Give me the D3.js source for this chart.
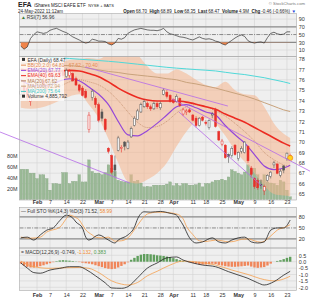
<!DOCTYPE html>
<html>
<head>
<meta charset="utf-8">
<script src="https://cdn.jsdelivr.net/npm/d3@7"></script>
<style>
  body { margin: 0; background: #fff; }
  svg { display: block; font-family: "Liberation Sans", Arial, sans-serif; }
</style>
</head>
<body>
<svg id="chart" width="312" height="300"></svg>
<script>
// trading days shown
const dates = [
  "2022-01-25","2022-01-26","2022-01-27","2022-01-28","2022-01-31",
  "2022-02-01","2022-02-02","2022-02-03","2022-02-04","2022-02-07","2022-02-08","2022-02-09","2022-02-10","2022-02-11",
  "2022-02-14","2022-02-15","2022-02-16","2022-02-17","2022-02-18","2022-02-22","2022-02-23","2022-02-24","2022-02-25","2022-02-28",
  "2022-03-01","2022-03-02","2022-03-03","2022-03-04","2022-03-07","2022-03-08","2022-03-09","2022-03-10","2022-03-11",
  "2022-03-14","2022-03-15","2022-03-16","2022-03-17","2022-03-18","2022-03-21","2022-03-22","2022-03-23","2022-03-24","2022-03-25",
  "2022-03-28","2022-03-29","2022-03-30","2022-03-31",
  "2022-04-01","2022-04-04","2022-04-05","2022-04-06","2022-04-07","2022-04-08","2022-04-11","2022-04-12","2022-04-13","2022-04-14",
  "2022-04-18","2022-04-19","2022-04-20","2022-04-21","2022-04-22","2022-04-25","2022-04-26","2022-04-27","2022-04-28","2022-04-29",
  "2022-05-02","2022-05-03","2022-05-04","2022-05-05","2022-05-06","2022-05-09","2022-05-10","2022-05-11","2022-05-12","2022-05-13",
  "2022-05-16","2022-05-17","2022-05-18","2022-05-19","2022-05-20","2022-05-23","2022-05-24"
];
const open = [74.6,75.4,75.2,73.9,74.5, 75.7,76.4,75.9,75.3,75.6, 75.6,76.9,76.6,76.8,76.3, 76.4,76.6,76.1,75.5,75.2,
  74.9,71.2,74.3,74.2,73.6, 72.9,72.2,69.4,68.7,67.8, 69.2,69.4,70.0,69.4,70.5, 71.6,72.2,72.9,73.4,73.7,
  73.4,73.2,73.7,73.3,74.6, 74.8,74.5,74.1,73.9,74.2, 72.7,72.9,73.1,72.6,72.3, 71.6,72.4,71.9,71.4,72.6,
  73.1,71.0,69.8,69.7,68.8, 68.7,69.7,68.4,69.1,69.0, 69.6,67.5,66.5,66.3,65.9, 65.3,66.3,66.7,67.8,67.9,
  66.8,67.7,68.4,68.70];
const high = [75.3,75.8,75.5,74.4,75.4, 76.1,76.7,76.2,75.7,75.9, 76.4,77.5,77.3,77.0,77.1, 77.0,76.7,76.3,75.6,75.4,
  75.1,72.9,75.1,74.4,73.8, 73.2,72.3,69.5,68.8,68.7, 70.6,69.7,70.1,70.2,71.5, 72.5,73.2,73.8,74.1,73.9,
  73.6,73.9,73.9,73.9,75.2, 75.0,74.6,74.2,74.6,74.3, 73.3,73.2,73.3,72.7,72.5, 72.4,72.5,72.1,72.2,72.9,
  73.3,71.1,70.3,69.8,68.9, 69.6,69.8,69.1,69.6,70.1, 69.7,67.7,66.6,66.5,66.4, 65.9,66.9,67.2,68.2,67.9,
  67.4,67.8,69.0,68.89];
const low = [74.1,74.6,74.0,73.5,74.3, 75.4,76.1,75.3,74.9,75.3, 75.5,76.8,76.3,76.2,76.2, 76.2,75.8,75.4,74.8,74.4,
  74.2,70.9,74.0,73.3,71.9, 72.0,71.0,68.9,66.9,66.7, 69.1,69.0,69.2,69.3,70.4, 71.5,72.1,72.8,73.3,73.2,
  73.0,73.1,73.2,73.1,74.5, 74.2,73.8,73.7,73.8,73.4, 72.5,72.6,72.8,72.0,71.4, 71.5,72.0,71.6,71.2,72.3,
  71.4,70.1,69.6,68.4,68.0, 68.5,68.7,68.2,68.9,68.9, 68.0,66.6,65.5,65.4,65.5, 64.9,66.2,66.5,67.5,66.9,
  66.6,67.0,68.2,68.35];
const close = [74.9,74.8,74.3,74.2,75.3, 76.0,76.5,75.5,75.4,75.6, 76.3,77.3,76.7,76.4,76.9, 76.8,75.9,75.5,75.0,74.5,
  74.3,72.6,74.9,73.6,72.1, 72.3,71.2,69.1,67.1,67.3, 70.4,69.5,69.6,70.0,71.3, 72.3,73.0,73.6,73.9,73.4,
  73.2,73.7,73.4,73.7,75.0, 74.4,73.9,73.8,74.4,73.5, 73.1,73.0,72.9,72.1,71.6, 72.3,72.1,71.8,72.1,72.7,
  71.5,70.2,70.1,68.5,68.6, 69.4,68.8,69.0,69.4,70.0, 68.2,66.9,65.7,65.6,65.8, 65.7,66.8,67.1,68.0,67.0,
  67.2,67.3,68.93,68.47];
// volume, millions of shares
const volume = [55,55,55,48,48, 38,45,45,38,17, 29,29,28,49,49, 29,33,33,45,32, 32,72,51,48,48, 45,49,63,57,51,
  35,33,32,32,45, 33,35,30,23,24, 23,26,26,26,26, 28,32,25,29,25, 29,29,26,26,27, 30,23,29,29,32,
  35,35,37,35,41, 54,51,48,45,50, 63,55,57,45,35, 45,32,30,29,26, 35,32,17,4.9];

// overlay lines, sampled every few sessions (index into dates)
const lineIdx = [0,3,6,9,12,15,18,21,24,27,30,33,36,39,42,45,48,51,54,57,60,63,66,69,72,75,78,81,83];
const ma200 = [78.3,78.25,78.2,78.15,78.1,78.05,77.98,77.92,77.85,77.78,77.7,77.6,77.5,77.4,77.3,77.2,77.12,77.05,76.98,76.92,76.85,76.72,76.6,76.5,76.35,76.2,76.0,75.8,75.64];
const ma100 = [77.6,77.55,77.5,77.45,77.4,77.35,77.3,77.1,76.95,76.8,76.7,76.55,76.45,76.35,76.25,76.1,76.0,75.75,75.6,75.4,75.2,74.95,74.7,74.45,74.15,73.8,73.45,73.1,72.94];
const ema40 = [77.0,76.9,76.85,76.8,76.85,76.9,76.85,76.6,76.3,75.8,75.2,74.7,74.3,74.05,73.95,73.95,73.95,73.85,73.65,73.4,73.15,72.7,72.3,71.9,71.4,70.9,70.4,69.9,69.63];
const ema20 = [76.0,75.5,75.4,75.5,75.9,76.1,75.9,75.3,74.6,73.6,72.0,70.7,70.6,71.1,71.8,72.6,73.4,73.6,73.3,72.9,72.6,71.6,70.7,69.9,68.8,67.7,67.35,67.5,67.77];
const ma20 = [76.5,76.0,75.6,75.3,75.4,75.8,76.0,75.8,75.5,74.9,74.0,72.9,71.9,71.4,71.5,72.0,72.8,73.4,73.6,73.4,73.0,72.5,71.8,71.0,70.1,69.0,68.3,67.8,67.62];
const bbUpper = [78.3,78.4,78.2,77.8,77.7,77.9,78.0,78.1,78.0,78.5,79.0,79.0,78.4,77.3,76.6,76.6,77.0,76.6,76.0,75.5,75.3,75.8,75.0,74.6,74.5,73.4,71.8,70.8,70.40];
const bbLower = [73.3,73.2,73.3,73.6,74.0,74.4,74.6,73.6,72.3,70.3,68.0,66.2,66.0,66.4,67.0,68.0,69.6,71.0,72.0,72.3,71.8,70.6,69.2,68.1,67.0,65.8,65.0,64.85,64.81];

// drawn trendlines: [session index, price] end points
const trendlines = [
  [[-6.4, 70.97], [33.6, 66.05]],
  [[19.8, 77.23], [63.8, 73.47]],
  [[46.6, 74.15], [89.1, 67.2]],
  [[48.7, 72.9], [74.3, 65.77]]
];

const rsi = [20,12,18,40,50, 57,55,53,55,61, 64,66,62,58,55, 50,44,40,36,31, 28,30,38,36,33, 33,32,26,23,28,
  40,38,42,53,58, 62,64,66,64,62, 61,61,60,62,66, 57,52,50,47,44, 43,41,38,36,40, 44,40,38,39,37,
  33,31,26,23,29, 35,41,46,49,45, 34,30,28,30,31, 28,42,53,56,52, 50,51,57,56.96];

const stoK = [[0,23],[2,25],[4,17],[6,31],[8,44],[10,50],[12,70],[14,85],[16,77],[17,66],[19,50],[20,25],[21,17],[24,31],
  [27,17],[29,9],[30,17],[33,31],[35,52],[36,75],[38,94],[40,93],[43,95],[46,90],[48,85],[49,72],[50,58],[52,23],[54,9],
  [56,12],[59,23],[61,12],[63,9],[65,17],[67,23],[69,25],[71,12],[73,9],[75,12],[77,44],[79,50],[81,50],[83,71.52]];
const stoD = [[0,25],[3,22],[6,25],[8,39],[12,52],[14,75],[15,85],[17,78],[18,72],[19,58],[20,45],[22,31],[23,25],[25,23],
  [27,25],[29,14],[31,15],[33,23],[35,45],[37,70],[39,88],[42,93],[45,92],[48,88],[50,75],[51,55],[53,32],[55,15],[57,13],
  [60,17],[62,15],[64,12],[66,14],[68,19],[70,20],[72,15],[74,11],[75,14],[77,28],[79,44],[82,54],[83,58.99]];

const macdLine = [[0,-0.1],[2,-0.5],[4,-0.85],[6,-0.9],[9,-0.65],[12,-0.52],[15,-0.39],[18,-0.39],[20,-0.6],[23,-1.1],
  [26,-1.65],[28,-2.05],[31,-2.08],[33,-1.95],[36,-1.25],[39,-0.5],[42,-0.1],[45,0.3],[48,0.37],[50,0.13],[53,-0.1],
  [56,-0.26],[60,-0.39],[64,-0.78],[67,-1.04],[70,-1.3],[73,-1.65],[75,-1.82],[78,-1.56],[81,-1.05],[83,-0.749]];
const macdSignal = [[0,0.05],[4,-0.39],[9,-0.52],[14,-0.47],[18,-0.45],[21,-0.52],[24,-0.85],[28,-1.5],[31,-1.75],
  [33,-1.82],[36,-1.62],[39,-1.1],[42,-0.75],[46,-0.26],[50,0.05],[55,-0.05],[60,-0.26],[65,-0.65],[70,-1.0],
  [75,-1.4],[78,-1.5],[81,-1.35],[83,-1.132]];
const macdHist = [-0.15,-0.3,-0.4,-0.45,-0.46, -0.4,-0.35,-0.28,-0.2,-0.12, -0.04,0.04,0.1,0.12,0.1, 0.08,0.05,0.02,-0.03,-0.08,
  -0.12,-0.15,-0.2,-0.28,-0.35, -0.42,-0.5,-0.55,-0.58,-0.55, -0.45,-0.33,-0.2,-0.05,0.15, 0.3,0.45,0.55,0.6,0.6,
  0.58,0.55,0.5,0.48,0.45, 0.4,0.34,0.28,0.2,0.12, 0.06,0.0,-0.05,-0.1,-0.15, -0.2,-0.22,-0.22,-0.2,-0.16,
  -0.18,-0.25,-0.3,-0.35,-0.38, -0.4,-0.4,-0.38,-0.36,-0.33, -0.3,-0.38,-0.45,-0.48,-0.45, -0.42,-0.3,-0.15,0.0,0.06,
  0.12,0.2,0.3,0.383];

const tickDates = ["2022-02-01","2022-02-07","2022-02-14","2022-02-22","2022-03-01","2022-03-07","2022-03-14","2022-03-21",
  "2022-03-28","2022-04-01","2022-04-11","2022-04-18","2022-04-25","2022-05-02","2022-05-09","2022-05-16","2022-05-23"];
const tickLabels = ["Feb","7","14","22","Mar","7","14","21","28","Apr","11","18","25","May","9","16","23"];
const priceTicks = d3.range(65, 79);
const rsiTicks = [90, 70, 50, 30, 10];
const stoTicks = [80, 50, 20];
const macdTicks = [0.5, 0, -0.5, -1, -1.5, -2];
const volTicks = [20, 40, 60, 80];

const FONT = "Liberation Sans, Arial, sans-serif";
const svg = d3.select("#chart");
const L = 19.5, R = 296.5;
const x = d3.scaleLinear().domain([-0.25, 85.1]).range([20, 297]);
const panels = { rsi: [13.5, 56.5], price: [56.5, 200], sto: [207.5, 248], macd: [248, 290.5] };

const yR = d3.scaleLinear().domain([0, 100]).range([53.9, 15.2]);
const yP = d3.scaleLinear().domain([65, 78]).range([194, 59]);
const yV = d3.scaleLinear().domain([0, 80]).range([199.5, 155.5]);
const yS = d3.scaleLinear().domain([0, 100]).range([246.3, 209.6]);
const yM = d3.scaleLinear().domain([-2, 0.5]).range([287.3, 255.3]);

const tickIdx = tickDates.map(d => dates.indexOf(d));
const defs = svg.append("defs");

// panel backgrounds, clips, vertical grid
Object.entries(panels).forEach(([k, [t, b]]) => {
  defs.append("clipPath").attr("id", "clip-" + k)
    .append("rect").attr("x", L).attr("y", t).attr("width", R - L).attr("height", b - t);
  svg.append("rect").attr("x", L).attr("y", t).attr("width", R - L).attr("height", b - t).attr("fill", "#efefef");
  svg.append("g").selectAll("line").data(tickIdx).join("line")
    .attr("x1", d => x(d)).attr("x2", d => x(d)).attr("y1", t).attr("y2", b)
    .attr("stroke", "#d4d4d4").attr("stroke-width", 0.6);
});

function hGrid(scale, values, style) {
  svg.append("g").selectAll("line").data(values).join("line")
    .attr("x1", L).attr("x2", R).attr("y1", d => scale(d)).attr("y2", d => scale(d))
    .each(function (d) {
      const s = style(d);
      d3.select(this).attr("stroke", s[0]).attr("stroke-width", s[1]).attr("stroke-dasharray", s[2] || null);
    });
}
const plainGrid = ["#d4d4d4", 0.6];
const bandLine = ["#8a8a8a", 1.3];
const midLine = ["#444", 0.6, "4,1.2,1,1.2"];
hGrid(yR, rsiTicks, d => d === 70 || d === 30 ? bandLine : d === 50 ? midLine : plainGrid);
hGrid(yP, priceTicks, () => plainGrid);
hGrid(yS, stoTicks, d => d === 50 ? midLine : bandLine);
hGrid(yM, macdTicks, () => plainGrid);

// ---------- RSI ----------
const gR = svg.append("g").attr("clip-path", "url(#clip-rsi)");
defs.append("clipPath").attr("id", "rsi-low").append("rect")
  .attr("x", L).attr("y", yR(30)).attr("width", R - L).attr("height", panels.rsi[1] - yR(30));
gR.append("path").datum(rsi)
  .attr("d", d3.area().x((d, i) => x(i)).y0(yR(30)).y1(d => yR(d)))
  .attr("fill", "#f0844a").attr("clip-path", "url(#rsi-low)");
gR.append("path").datum(rsi)
  .attr("d", d3.line().x((d, i) => x(i)).y(d => yR(d)))
  .attr("fill", "none").attr("stroke", "#333").attr("stroke-width", 0.7);

// ---------- price panel ----------
const gP = svg.append("g").attr("clip-path", "url(#clip-price)");
gP.append("g").selectAll("rect").data(volume).join("rect")
  .attr("x", (d, i) => x(i) - 1.3).attr("width", 2.6)
  .attr("y", d => yV(d)).attr("height", d => yV(0) - yV(d))
  .attr("fill", "#9ab996").attr("stroke", "#7f9f7b").attr("stroke-width", 0.3);

const bb = lineIdx.map((d, k) => ({ i: d, u: bbUpper[k], l: bbLower[k] }));
gP.append("path").datum(bb)
  .attr("d", d3.area().curve(d3.curveMonotoneX).x(d => x(d.i)).y0(d => yP(d.l)).y1(d => yP(d.u)))
  .attr("fill", "#f6b48c").attr("fill-opacity", 0.55);

function overlay(values, color, width, dash) {
  gP.append("path").datum(lineIdx.map((d, k) => [d, values[k]]))
    .attr("d", d3.line().curve(d3.curveMonotoneX).x(d => x(d[0])).y(d => yP(d[1])))
    .attr("fill", "none").attr("stroke", color).attr("stroke-width", width)
    .attr("stroke-dasharray", dash || null);
}
overlay(ma200, "#4fd8d8", 1);
overlay(ma100, "#c8a27c", 1);
overlay(ma20, "#b3774f", 0.6, "1,1");
overlay(ema40, "#ec2b22", 1.6);
overlay(ema20, "#9447d8", 1.2);

const candleColor = i => (i > 0 && close[i] < close[i - 1]) ? "#e8302a" : "#555";
const cg = gP.append("g").selectAll("g").data(d3.range(dates.length)).join("g");
cg.append("line")
  .attr("x1", i => x(i)).attr("x2", i => x(i))
  .attr("y1", i => yP(high[i])).attr("y2", i => yP(low[i]))
  .attr("stroke", candleColor).attr("stroke-width", 0.6);
cg.append("rect")
  .attr("x", i => x(i) - 1).attr("width", 2)
  .attr("y", i => yP(Math.max(open[i], close[i])))
  .attr("height", i => Math.max(0.5, Math.abs(yP(open[i]) - yP(close[i]))))
  .attr("fill", i => close[i] < open[i] ? candleColor(i) : "#fafafa")
  .attr("stroke", candleColor).attr("stroke-width", 0.5);

const last = dates.length - 1;
gP.append("circle").attr("cx", x(last)).attr("cy", yP(close[last])).attr("r", 2.6)
  .attr("fill", "#ffd21f").attr("stroke", "#f07a10").attr("stroke-width", 0.6);

// trendlines run past the panel edges
svg.append("g").selectAll("line").data(trendlines).join("line")
  .attr("x1", d => x(d[0][0])).attr("y1", d => yP(d[0][1]))
  .attr("x2", d => x(d[1][0])).attr("y2", d => yP(d[1][1]))
  .attr("stroke", "#b56ae8").attr("stroke-width", 0.8);

// legend
svg.append("rect").attr("x", L + 0.5).attr("y", 57).attr("width", 44).attr("height", 44)
  .attr("fill", "#fff").attr("fill-opacity", 0.78);
const legend = [
  ["EFA (Daily) 68.47", "#333", "box"],
  ["BB(20,2.0) 64.81 - 67.62 - 70.40", "#e48a52", "line"],
  ["EMA(20) 67.77", "#9447d8", "line"],
  ["EMA(40) 69.63", "#ec2b22", "line"],
  ["MA(20) 67.62", "#b3774f", "line"],
  ["MA(100) 72.94", "#c8a27c", "line"],
  ["MA(200) 75.64", "#3cc8c8", "line"],
  ["Volume 4,885,792", "#333", "box"]
];
const lg = svg.append("g").selectAll("g").data(legend).join("g")
  .attr("transform", (d, k) => `translate(21,${61.5 + k * 5.25})`);
lg.filter(d => d[2] === "line").append("line")
  .attr("x1", 0).attr("x2", 5).attr("y1", -1.6).attr("y2", -1.6)
  .attr("stroke", d => d[1]).attr("stroke-width", 1);
lg.filter(d => d[2] === "box").append("rect")
  .attr("x", 1).attr("y", -3.6).attr("width", 3).attr("height", 3).attr("fill", "#333");
lg.append("text").attr("x", 6.5).attr("font-size", 4.9).attr("fill", d => d[1]).text(d => d[0]);

// ---------- STO ----------
const gS = svg.append("g").attr("clip-path", "url(#clip-sto)");
const stoPath = d3.line().curve(d3.curveMonotoneX).x(d => x(d[0])).y(d => yS(d[1]));
gS.append("path").datum(stoD).attr("d", stoPath).attr("fill", "none").attr("stroke", "#f5a04e").attr("stroke-width", 0.8);
gS.append("path").datum(stoK).attr("d", stoPath).attr("fill", "none").attr("stroke", "#222").attr("stroke-width", 0.8);

// ---------- MACD ----------
const gM = svg.append("g").attr("clip-path", "url(#clip-macd)");
gM.append("g").selectAll("rect").data(macdHist).join("rect")
  .attr("x", (d, i) => x(i) - 1.2).attr("width", 2.4)
  .attr("y", d => yM(Math.max(0, d))).attr("height", d => Math.abs(yM(d) - yM(0)))
  .attr("fill", d => d >= 0 ? "#5f9e5c" : "#f0865a");
const macdPath = d3.line().curve(d3.curveMonotoneX).x(d => x(d[0])).y(d => yM(d[1]));
gM.append("path").datum(macdSignal).attr("d", macdPath).attr("fill", "none").attr("stroke", "#f5a04e").attr("stroke-width", 0.8);
gM.append("path").datum(macdLine).attr("d", macdPath).attr("fill", "none").attr("stroke", "#222").attr("stroke-width", 0.8);

// panel frames on top
Object.values(panels).forEach(([t, b]) => {
  svg.append("rect").attr("x", L).attr("y", t).attr("width", R - L).attr("height", b - t)
    .attr("fill", "none").attr("stroke", "#a8a8a8").attr("stroke-width", 0.6);
});

// ---------- axes ----------
function styleAxis(g) {
  g.select(".domain").remove();
  g.attr("font-size", 5.4).attr("font-family", FONT);
  g.selectAll("text").attr("fill", "#333");
}
function rightAxis(scale, values, fmt) {
  svg.append("g").attr("transform", `translate(${R + 0.5},0)`)
    .call(d3.axisRight(scale).tickValues(values).tickSize(0).tickPadding(1.8).tickFormat(fmt))
    .call(styleAxis);
}
rightAxis(yR, rsiTicks, d => d);
rightAxis(yP, priceTicks, d => d);
rightAxis(yS, stoTicks, d => d);
rightAxis(yM, macdTicks, d => d.toFixed(1));

svg.append("g").attr("transform", `translate(${L - 0.5},0)`)
  .call(d3.axisLeft(yV).tickValues(volTicks).tickSize(0).tickPadding(1.5).tickFormat(d => d + "M"))
  .call(styleAxis);

function dateAxis(yPos, pad) {
  svg.append("g").attr("transform", `translate(0,${yPos})`)
    .call(d3.axisBottom(x).tickValues(tickIdx).tickSize(0).tickPadding(pad)
      .tickFormat((d, k) => tickLabels[k]))
    .call(styleAxis)
    .selectAll("text").attr("font-weight", (d, k) => isNaN(+tickLabels[k]) ? "bold" : "normal");
}
dateAxis(panels.price[1], 0.6);
dateAxis(panels.macd[1], 2.2);

// ---------- titles ----------
const head = svg.append("text").attr("x", 18).attr("y", 7).attr("fill", "#222");
head.append("tspan").attr("font-size", 7).attr("font-weight", "bold").text("EFA");
head.append("tspan").attr("font-size", 4.6).attr("dx", 2.5).text("iShares MSCI EAFE ETF");
head.append("tspan").attr("font-size", 4).attr("dx", 2.5).text("NYSE + BATS");
svg.append("text").attr("x", 305).attr("y", 4.8).attr("text-anchor", "end")
  .attr("font-size", 4.2).attr("fill", "#777").text("© StockCharts.com");
svg.append("text").attr("x", 18).attr("y", 12.8).attr("font-size", 4.5).attr("fill", "#222").text("24-May-2022 11:12am");

const quote = svg.append("text").attr("x", 296).attr("y", 12.8).attr("text-anchor", "end")
  .attr("font-size", 4.5).attr("fill", "#222");
[["Open", "68.70"], ["High", "68.89"], ["Low", "68.35"], ["Last", "68.47"], ["Volume", "4.9M"], ["Chg", "-0.46 (-0.66%)"]]
  .forEach(([k, v], n) => {
    quote.append("tspan").attr("font-weight", "bold").attr("dx", n ? 2.5 : 0).text(k);
    quote.append("tspan").attr("dx", 1).text(v);
  });
quote.append("tspan").attr("dx", 1.5).attr("fill", "#2346d8").text("▼");

const rsiLbl = svg.append("text").attr("x", 21).attr("y", 19).attr("font-size", 4.9).attr("fill", "#333");
rsiLbl.append("tspan").attr("fill", "#3a7a3a").text("▲");
rsiLbl.append("tspan").attr("dx", 0.8).text("RSI(7) 56.96");

const stoLbl = svg.append("text").attr("x", 21).attr("y", 213).attr("font-size", 4.9).attr("fill", "#333");
stoLbl.append("tspan").text("— Full STO %K(14,3) %D(3) 71.52, ");
stoLbl.append("tspan").attr("fill", "#f08a30").text("58.99");

const macdLbl = svg.append("text").attr("x", 21).attr("y", 253.5).attr("font-size", 4.9).attr("fill", "#333");
macdLbl.append("tspan").text("= MACD(12,26,9) -0.749, ");
macdLbl.append("tspan").attr("fill", "#f08a30").text("-1.132");
macdLbl.append("tspan").text(", ");
macdLbl.append("tspan").attr("fill", "#4f9a4c").text("0.383");
</script>
</body>
</html>
